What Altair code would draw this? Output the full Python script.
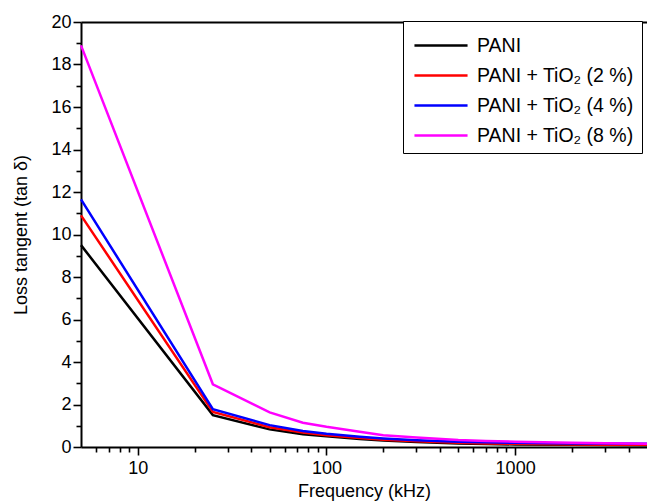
import altair as alt
import pandas as pd

freq = [5, 25, 50, 75, 100, 150, 200, 300, 500, 700, 1000, 2000, 3000, 5000]
pani = [9.5, 1.5, 0.83, 0.6, 0.5, 0.38, 0.3, 0.24, 0.17, 0.14, 0.12, 0.1, 0.09, 0.08]
tio2_2 = [10.9, 1.65, 0.93, 0.68, 0.55, 0.42, 0.34, 0.27, 0.2, 0.17, 0.15, 0.12, 0.11, 0.1]
tio2_4 = [11.65, 1.78, 1.03, 0.75, 0.62, 0.48, 0.4, 0.32, 0.25, 0.22, 0.2, 0.17, 0.16, 0.15]
tio2_8 = [18.9, 2.95, 1.63, 1.14, 0.95, 0.72, 0.55, 0.45, 0.33, 0.28, 0.25, 0.2, 0.18, 0.15]

series_names = ["PANI", "PANI + TiO₂ (2 %)", "PANI + TiO₂ (4 %)", "PANI + TiO₂ (8 %)"]
series_colors = ["#000000", "#ff0000", "#0000ff", "#ff00ff"]

x_ticks = [6, 7, 8, 9, 10, 20, 30, 40, 50, 60, 70, 80, 90, 100,
           200, 300, 400, 500, 600, 700, 800, 900, 1000, 2000, 3000, 4000]
y_ticks = list(range(0, 21))

rows = []
for name, vals in zip(series_names, [pani, tio2_2, tio2_4, tio2_8]):
    for f, v in zip(freq, vals):
        rows.append({"freq": f, "val": v, "series": name})
df = pd.DataFrame(rows)

FONT = "Liberation Sans"
FS = 18

xscale = alt.Scale(type="log", domain=[5, 5000], nice=False)
yscale = alt.Scale(domain=[0, 20], nice=False)

x_major_test = "indexof([10,100,1000], datum.value) >= 0"
y_major_test = "datum.value % 2 == 0"

y_axis = alt.Axis(orient="left", values=y_ticks,
                  labelExpr=f"{y_major_test} ? datum.label : ''",
                  tickSize={"condition": {"test": y_major_test, "value": 8}, "value": 5},
                  tickWidth=1.6, domainWidth=2, labelFontSize=FS, labelFont=FONT,
                  labelColor="black", domainColor="black", tickColor="black",
                  title="Loss tangent (tan δ)", titleFont=FONT, titleFontSize=FS,
                  titleFontWeight="normal", titleColor="black", titlePadding=20,
                  labelPadding=2, grid=False, labelFlush=False, labelOverlap=False)

base = alt.Chart(df)

lines = base.mark_line(strokeWidth=2.5).encode(
    x=alt.X("freq:Q", scale=xscale,
            axis=alt.Axis(orient="bottom", values=x_ticks, format="d",
                          labelExpr=f"{x_major_test} ? datum.label : ''",
                          tickSize={"condition": {"test": x_major_test, "value": 8}, "value": 5},
                          tickWidth=1.6, domainWidth=2, labelFontSize=FS,
                          labelFont=FONT, labelColor="black", domainColor="black",
                          tickColor="black", title="Frequency (kHz)", titleFont=FONT,
                          titleFontSize=FS, titleFontWeight="normal", titleColor="black",
                          titlePadding=5, labelPadding=4, grid=False, labelFlush=False,
                          labelOverlap=False)),
    y=alt.Y("val:Q", scale=yscale, axis=y_axis),
    color=alt.Color("series:N",
                    scale=alt.Scale(domain=series_names, range=series_colors),
                    legend=alt.Legend(title=None, orient="none", legendX=322, legendY=-1,
                                      symbolType="M-1.77,0H1.77", symbolSize=900,
                                      symbolStrokeWidth=2.5, symbolOffset=13.5,
                                      labelFontSize=19.5,
                                      labelFont=FONT, labelColor="black",
                                      strokeColor="black", fillColor="white",
                                      padding=8, rowPadding=4, labelOffset=19.5)),
)

top = base.mark_line(opacity=0).encode(
    x=alt.X("freq:Q", scale=xscale,
            axis=alt.Axis(orient="top", labels=False, ticks=False, domain=True,
                          domainColor="black", domainWidth=2, title=None, grid=False)),
    y=alt.Y("val:Q", scale=yscale, axis=y_axis),
    detail="series:N",
)

chart = alt.layer(lines, top).resolve_axis(x="independent").properties(
    width=566, height=425,
    autosize=alt.AutoSizeParams(type="none"),
    padding={"left": 81, "top": 22, "right": 0, "bottom": 55},
    background="white",
).configure_view(stroke=None)

chart.save("out.html", embed_options={"renderer": "svg", "actions": False})
